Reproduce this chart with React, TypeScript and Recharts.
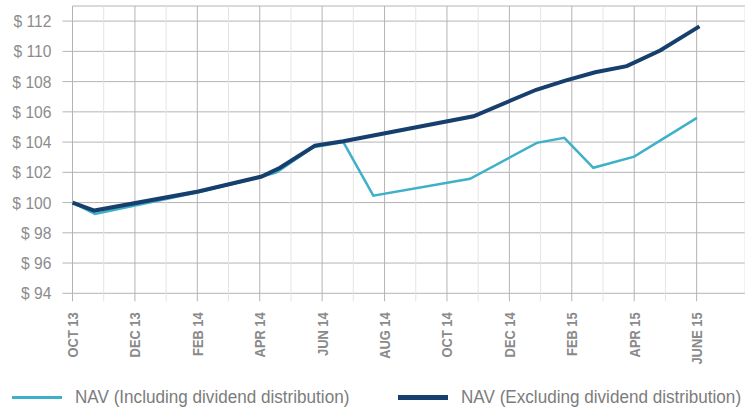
import React from 'react';
import { LineChart, Line, XAxis, YAxis, CartesianGrid } from 'recharts';

// month index from OCT 13 (0) to JUNE 15 (20)
const monthTicks = [0, 1, 2, 3, 4, 5, 6, 7, 8, 9, 10, 11, 12, 13, 14, 15, 16, 17, 18, 19, 20];
const tickLabels = ['OCT 13', 'DEC 13', 'FEB 14', 'APR 14', 'JUN 14', 'AUG 14', 'OCT 14', 'DEC 14', 'FEB 15', 'APR 15', 'JUNE 15'];
const navTicks = [94, 96, 98, 100, 102, 104, 106, 108, 110, 112];

const inclMonths = [0, 0.72, 4.03, 6.06, 6.54, 7.72, 8.68, 9.64, 12.74, 14.88, 15.76, 16.69, 18.0, 20.01];
const inclValues = [100, 99.25, 100.68, 101.7, 102.0, 103.66, 104.0, 100.46, 101.57, 103.95, 104.28, 102.3, 103.04, 105.6];

const exclMonths = [0, 0.7, 4.03, 6.06, 6.65, 7.77, 8.68, 12.85, 14.86, 15.79, 16.75, 17.76, 18.83, 20.09];
const exclValues = [100, 99.47, 100.73, 101.72, 102.3, 103.77, 104.06, 105.71, 107.46, 108.07, 108.62, 109.02, 110.06, 111.65];

const inclData = inclMonths.map((m, i) => ({ m, v: inclValues[i] }));
const exclData = exclMonths.map((m, i) => ({ m, v: exclValues[i] }));

const LIGHT = '#3fb0c9';
const DARK = '#173f6e';
const GRID_DARK = '#b4b4b4';
const GRID_LIGHT = '#e4e4e4';
const FONT = '"Liberation Sans", Arial, sans-serif';

const XTick = (props: any) => {
  const { x, y, payload } = props;
  const major = payload.value % 2 === 0;
  const label = major ? tickLabels[payload.value / 2] : '';
  const ty = y + 19;
  return (
    <g>
      <line x1={x} y1={y} x2={x} y2={y + 8} stroke={major ? GRID_DARK : GRID_LIGHT} />
      {label && (
        <text
          x={0}
          y={0}
          transform={`translate(${x}, ${ty}) rotate(-90) scale(0.86, 1)`}
          textAnchor="end"
          dominantBaseline="central"
          fill="#8a8a8a"
          fontSize={15}
          fontWeight="bold"
          fontFamily={FONT}
        >
          {label}
        </text>
      )}
    </g>
  );
};

const YTick = (props: any) => {
  const { x, y, payload } = props;
  return (
    <text
      x={x}
      y={y}
      dy="0.36em"
      textAnchor="end"
      fill="#8c8c8c"
      fontSize={17}
      fontFamily={FONT}
      transform={`translate(${x}, 0) scale(0.92, 1) translate(${-x}, 0)`}
    >
      {`$ ${payload.value}`}
    </text>
  );
};

const VLine = (p: any) => (
  <line
    key={p.key}
    x1={p.x1}
    y1={p.y1}
    x2={p.x2}
    y2={p.y2}
    stroke={p.index % 2 === 0 ? GRID_DARK : GRID_LIGHT}
    strokeWidth={1}
  />
);

export default function App() {
  return (
    <div style={{ position: 'absolute', left: 0, top: 0, width: 745, height: 408, background: '#fff' }}>
      <LineChart width={745} height={408} margin={{ top: 6, right: 0, bottom: 0, left: 0 }}>
        <CartesianGrid stroke={GRID_DARK} vertical={VLine} />
        <XAxis
          type="number"
          dataKey="m"
          domain={[0, 21.55]}
          ticks={monthTicks}
          interval={0}
          height={114.7}
          tickSize={0}
          tickMargin={0}
          axisLine={false}
          tickLine={false}
          tick={<XTick />}
        />
        <YAxis
          type="number"
          domain={[94, 113]}
          ticks={navTicks}
          width={72.5}
          tickSize={10}
          tickMargin={11}
          axisLine={false}
          tickLine={{ stroke: GRID_DARK }}
          tick={<YTick />}
        />
        <Line data={inclData} dataKey="v" type="linear" stroke={LIGHT} strokeWidth={2.5} dot={false} activeDot={false} isAnimationActive={false} />
        <Line data={exclData} dataKey="v" type="linear" stroke={DARK} strokeWidth={4} dot={false} activeDot={false} isAnimationActive={false} />
      </LineChart>
      <div style={{ position: 'absolute', left: 0, top: 385, width: 745, height: 23, fontFamily: FONT, fontSize: 18, color: '#7c7c7c' }}>
        <div style={{ position: 'absolute', left: 12, top: 11, width: 50, height: 3, background: LIGHT }} />
        <div style={{ position: 'absolute', left: 75, top: 0, whiteSpace: 'nowrap', lineHeight: '24px', transform: 'scaleX(0.95)', transformOrigin: 'left' }}>
          NAV (Including dividend distribution)
        </div>
        <div style={{ position: 'absolute', left: 398, top: 10, width: 50, height: 5, background: DARK }} />
        <div style={{ position: 'absolute', left: 461, top: 0, whiteSpace: 'nowrap', lineHeight: '24px', transform: 'scaleX(0.95)', transformOrigin: 'left' }}>
          NAV (Excluding dividend distribution)
        </div>
      </div>
    </div>
  );
}
